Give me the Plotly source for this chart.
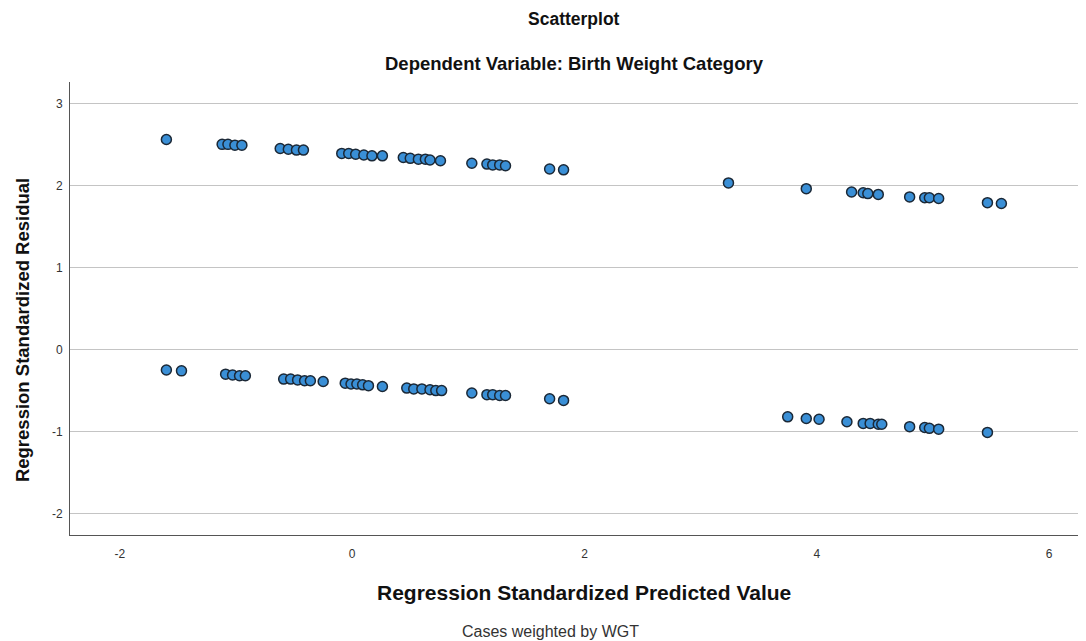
import plotly.graph_objects as go

upper_x = [-1.60, -1.12, -1.07, -1.01, -0.95, -0.62, -0.55, -0.48, -0.42, -0.09, -0.03, 0.03, 0.10, 0.17,
           0.26, 0.44, 0.50, 0.57, 0.63, 0.67, 0.76, 1.03, 1.16, 1.21, 1.27, 1.32, 1.70, 1.82, 3.24, 3.91,
           4.30, 4.40, 4.44, 4.53, 4.80, 4.93, 4.97, 5.05, 5.47, 5.59]
upper_y = [2.56, 2.50, 2.50, 2.49, 2.49, 2.45, 2.44, 2.43, 2.43, 2.39, 2.39, 2.38, 2.37, 2.36,
           2.36, 2.34, 2.33, 2.32, 2.32, 2.31, 2.30, 2.27, 2.26, 2.25, 2.25, 2.24, 2.20, 2.19, 2.03, 1.96,
           1.92, 1.91, 1.90, 1.89, 1.86, 1.85, 1.85, 1.84, 1.79, 1.78]

lower_x = [-1.60, -1.47, -1.09, -1.03, -0.97, -0.92, -0.59, -0.53, -0.47, -0.41, -0.36, -0.25, -0.06,
           -0.01, 0.04, 0.09, 0.14, 0.26, 0.47, 0.53, 0.60, 0.67, 0.72, 0.77, 1.03, 1.16, 1.21, 1.27, 1.32,
           1.70, 1.82, 3.75, 3.91, 4.02, 4.26, 4.40, 4.46, 4.53, 4.56, 4.80, 4.93, 4.97, 5.05, 5.47]
lower_y = [-0.25, -0.26, -0.30, -0.31, -0.32, -0.32, -0.36, -0.36, -0.37, -0.38, -0.38, -0.39, -0.41,
           -0.42, -0.42, -0.43, -0.44, -0.45, -0.47, -0.48, -0.48, -0.49, -0.50, -0.50, -0.53, -0.55, -0.55,
           -0.56, -0.56, -0.60, -0.62, -0.82, -0.84, -0.85, -0.88, -0.90, -0.90, -0.91, -0.91, -0.94, -0.95,
           -0.96, -0.97, -1.01]

x_ticks = [-2, 0, 2, 4, 6]
x_tick_labels = ["-2", "0", "2", "4", "6"]
y_ticks = [-2, -1, 0, 1, 2, 3]
y_tick_labels = ["-2", "-1", "0", "1", "2", "3"]

FONT = "Arial, 'Liberation Sans', sans-serif"

marker = dict(size=10, color="#3a8fd6", line=dict(color="#1b2836", width=1.5))

fig = go.Figure()
fig.add_trace(go.Scatter(x=upper_x + lower_x, y=upper_y + lower_y, mode="markers",
                         marker=marker, showlegend=False, hoverinfo="x+y"))


def note(text, x, y, size, color="#111111", angle=0):
    return dict(text=text, x=x, y=y, xref="paper", yref="paper", xanchor="center", yanchor="middle",
                showarrow=False, textangle=angle, font=dict(size=size, color=color))


fig.update_layout(
    width=1078, height=633,
    margin=dict(l=62, r=1, t=74, b=106),
    paper_bgcolor="white", plot_bgcolor="white",
    font=dict(family=FONT, color="#222222"),
    xaxis=dict(range=[-2.43, 6.31], tickvals=x_ticks, ticktext=x_tick_labels, showgrid=False,
               zeroline=False, showline=True, linecolor="#555555", linewidth=1, ticks="", ticklen=0,
               ticklabelstandoff=8, tickfont=dict(size=12, color="#333333")),
    yaxis=dict(range=[-2.26, 3.26], tickvals=y_ticks, ticktext=y_tick_labels, showgrid=True,
               gridcolor="#c4c4c4", gridwidth=1, zeroline=False, showline=True, linecolor="#555555",
               linewidth=1, ticks="", ticklabelstandoff=4, tickfont=dict(size=12, color="#333333")),
    annotations=[
        note("<b>Scatterplot</b>", 0.497, 1.140, 17.5),
        note("<b>Dependent Variable: Birth Weight Category</b>", 0.497, 1.040, 18.5),
        note("<b>Regression Standardized Predicted Value</b>", 0.506, -0.128, 21),
        note("Cases weighted by WGT", 0.473, -0.212, 16, color="#333333"),
        note("<b>Regression Standardized Residual</b>", -0.047, 0.453, 18.5, angle=-90),
    ],
)

fig.write_html("out.html")
